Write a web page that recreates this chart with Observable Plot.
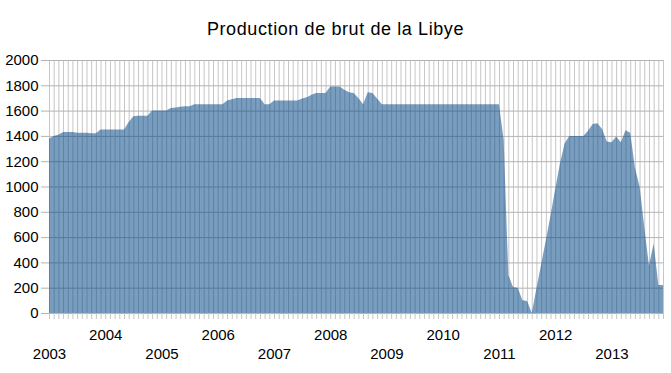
<!DOCTYPE html>
<html><head><meta charset="utf-8">
<script src="https://cdn.jsdelivr.net/npm/d3@7"></script>
<script src="https://cdn.jsdelivr.net/npm/@observablehq/plot@0.6"></script>
<style>
body{margin:0;background:#fff;font-family:"Liberation Sans",Arial,sans-serif;}
#title{width:671px;height:45px;box-sizing:border-box;padding-top:19px;line-height:20px;font-size:18px;letter-spacing:0.6px;text-align:center;color:#000;}
</style></head><body>
<div id="title">Production de brut de la Libye</div>
<div id="chart"></div>
<script>
const years = [2003, 2004, 2005, 2006, 2007, 2008, 2009, 2010, 2011, 2012, 2013];
const prod2003 = [1380, 1400, 1410, 1430, 1430, 1430, 1425, 1425, 1425, 1420, 1420, 1450];
const prod2004 = [1450, 1450, 1450, 1450, 1450, 1510, 1555, 1560, 1560, 1560, 1600, 1600];
const prod2005 = [1600, 1600, 1620, 1625, 1630, 1635, 1635, 1650, 1650, 1650, 1650, 1650];
const prod2006 = [1650, 1650, 1680, 1690, 1700, 1700, 1700, 1700, 1700, 1700, 1650, 1650];
const prod2007 = [1680, 1680, 1680, 1680, 1680, 1680, 1695, 1705, 1725, 1740, 1740, 1740];
const prod2008 = [1790, 1790, 1790, 1765, 1745, 1740, 1700, 1650, 1745, 1740, 1695, 1650];
const prod2009 = [1650, 1650, 1650, 1650, 1650, 1650, 1650, 1650, 1650, 1650, 1650, 1650];
const prod2010 = [1650, 1650, 1650, 1650, 1650, 1650, 1650, 1650, 1650, 1650, 1650, 1650];
const prod2011 = [1650, 1370, 300, 205, 200, 100, 95, 0, 195, 385, 575, 770];
const prod2012 = [980, 1180, 1340, 1400, 1400, 1400, 1400, 1440, 1495, 1500, 1455, 1355];
const prod2013 = [1350, 1395, 1350, 1445, 1425, 1150, 1000, 680, 375, 550, 222, 222];
const yTicks = [0, 200, 400, 600, 800, 1000, 1200, 1400, 1600, 1800, 2000];

const production = [].concat(prod2003, prod2004, prod2005, prod2006, prod2007, prod2008,
  prod2009, prod2010, prod2011, prod2012, prod2013);
const data = production.map((v, i) => ({i, v}));
const months = d3.range(production.length);
const yearStart = years.map((y, k) => k * 12);
const evenYears = yearStart.filter((_, k) => years[k] % 2 === 0);
const oddYears = yearStart.filter((_, k) => years[k] % 2 === 1);
const yearLabel = i => String(years[i / 12]);

const chart = Plot.plot({
  width: 671,
  height: 328,
  marginLeft: 49,
  marginRight: 8,
  marginTop: 15,
  marginBottom: 60,
  style: {fontFamily: "'Liberation Sans', Arial, sans-serif", fontSize: "15px", color: "#000", background: "#fff"},
  x: {domain: [0, production.length - 1]},
  y: {domain: [0, 2000]},
  marks: [
    Plot.ruleX(months, {stroke: "#c6c6c6"}),
    Plot.ruleY(yTicks, {stroke: "#b3b3b3"}),
    Plot.areaY(data, {x: "i", y: "v", fill: "#004586", fillOpacity: 0.53}),
    Plot.axisY({ticks: yTicks, tickSize: 8, tickPadding: 3, tickFormat: d => String(d), stroke: "#b3b3b3", strokeOpacity: 1, label: null, fontSize: 15}),
    Plot.axisX({ticks: months, tickSize: 6, tickFormat: () => "", stroke: "#c6c6c6", strokeOpacity: 1, label: null}),
    Plot.axisX({ticks: evenYears, tickSize: 0, tickPadding: 16, tickFormat: yearLabel, label: null, fontSize: 15}),
    Plot.axisX({ticks: oddYears, tickSize: 0, tickPadding: 35, tickFormat: yearLabel, label: null, fontSize: 15})
  ]
});
document.getElementById("chart").append(chart);
</script>
</body></html>
